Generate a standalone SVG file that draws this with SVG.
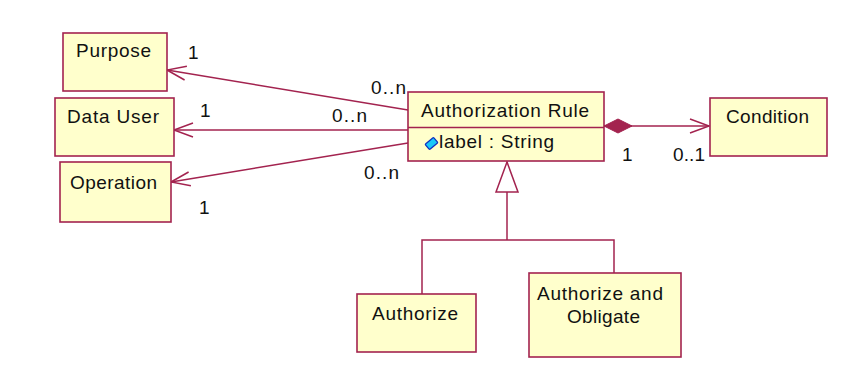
<svg xmlns="http://www.w3.org/2000/svg" width="857" height="373" viewBox="0 0 857 373">
  <style>
    .box { fill: #FFFFCC; stroke: #A3234F; stroke-width: 1.6; }
    .edge { fill: none; stroke: #A3234F; stroke-width: 1.5; }
    text { font-family: "Liberation Sans", Arial, sans-serif; font-size: 19px; fill: #111; }
  </style>
  <defs>
    <marker id="open-arrow" markerUnits="userSpaceOnUse" viewBox="-20 -8 22 16" refX="0" refY="0" markerWidth="22" markerHeight="16" orient="auto" overflow="visible">
      <path d="M -19 -7 L 0 0 L -19 7" fill="none" stroke="#A3234F" stroke-width="1.5"/>
    </marker>
    <marker id="composition" markerUnits="userSpaceOnUse" viewBox="0 -8 30 16" refX="0" refY="0" markerWidth="30" markerHeight="16" orient="auto" overflow="visible">
      <path d="M 0 0 L 14 -7 L 28 0 L 14 7 Z" fill="#A3234F" stroke="#A3234F" stroke-width="1"/>
    </marker>
    <marker id="generalization" markerUnits="userSpaceOnUse" viewBox="-32 -12 34 24" refX="0" refY="0" markerWidth="34" markerHeight="24" orient="auto" overflow="visible">
      <path d="M 0 0 L -30 -11 L -30 11 Z" fill="#FFFFFF" stroke="#A3234F" stroke-width="1.5"/>
    </marker>
  </defs>

  <rect width="857" height="373" fill="#FFFFFF"/>

  <!-- connectors -->
  <g id="connectors">
    <path class="edge" d="M 408 110 L 167 70" marker-end="url(#open-arrow)"/>
    <path class="edge" d="M 408 130 L 174 130" marker-end="url(#open-arrow)"/>
    <path class="edge" d="M 408 143 L 171 182" marker-end="url(#open-arrow)"/>
    <path class="edge" d="M 604 126 L 709 126" marker-start="url(#composition)" marker-end="url(#open-arrow)"/>
    <path class="edge" d="M 422 294 L 422 240 L 614 240 L 614 273"/>
    <path class="edge" d="M 507 240 L 507 162" marker-end="url(#generalization)"/>
    <text x="188" y="59">1</text>
    <text x="371" y="94" textLength="35" lengthAdjust="spacing">0..n</text>
    <text x="200" y="117">1</text>
    <text x="332" y="122" textLength="35" lengthAdjust="spacing">0..n</text>
    <text x="364" y="179" textLength="35" lengthAdjust="spacing">0..n</text>
    <text x="199" y="214">1</text>
    <text x="622" y="161">1</text>
    <text x="673" y="161" textLength="32" lengthAdjust="spacing">0..1</text>
  </g>

  <g id="purpose">
    <rect class="box" x="63" y="33" width="104" height="58"/>
    <text x="76" y="57" textLength="75" lengthAdjust="spacing">Purpose</text>
  </g>

  <g id="data-user">
    <rect class="box" x="55" y="98" width="119" height="58"/>
    <text x="67" y="123" textLength="92" lengthAdjust="spacing">Data User</text>
  </g>

  <g id="operation">
    <rect class="box" x="60" y="162" width="111" height="60"/>
    <text x="70" y="189" textLength="87" lengthAdjust="spacing">Operation</text>
  </g>

  <g id="authorization-rule">
    <rect class="box" x="408" y="92" width="196" height="69"/>
    <line x1="408" y1="127.5" x2="604" y2="127.5" stroke="#A3234F" stroke-width="1.6"/>
    <text x="421" y="117" textLength="168" lengthAdjust="spacing">Authorization Rule</text>
    <!-- public attribute icon -->
    <rect x="426" y="140" width="11" height="7" rx="1" transform="rotate(-40 431.5 143.5)" fill="#18C8F8" stroke="#1030C0" stroke-width="1.3"/>
    <text x="439" y="148" textLength="115" lengthAdjust="spacing">label : String</text>
  </g>

  <g id="condition">
    <rect class="box" x="710" y="98" width="117" height="58"/>
    <text x="726" y="123" textLength="83" lengthAdjust="spacing">Condition</text>
  </g>

  <g id="authorize">
    <rect class="box" x="357" y="294" width="119" height="58"/>
    <text x="372" y="320" textLength="86" lengthAdjust="spacing">Authorize</text>
  </g>

  <g id="authorize-and-obligate">
    <rect class="box" x="529" y="273" width="152" height="84"/>
    <text x="537" y="300" textLength="126" lengthAdjust="spacing">Authorize and</text>
    <text x="567" y="323" textLength="73" lengthAdjust="spacing">Obligate</text>
  </g>
</svg>
